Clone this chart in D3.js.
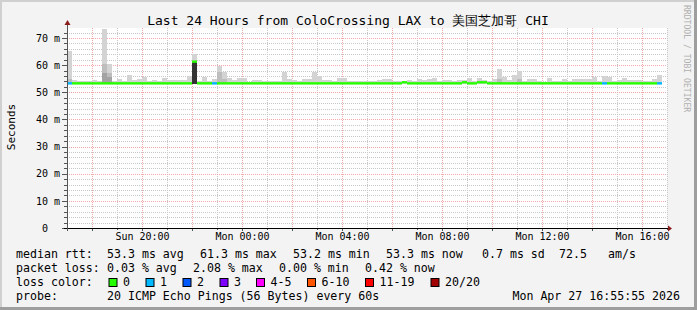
<!DOCTYPE html>
<html><head><meta charset="utf-8">
<script src="https://cdn.jsdelivr.net/npm/d3@7"></script>
<style>
body{margin:0;background:#f3f3f3}
svg{display:block}
text{font-family:"DejaVu Sans Mono",monospace;white-space:pre}
</style>
</head><body><svg id="c" width="697" height="310"></svg>
<script>
// ---------------- DATA ----------------
const title = "Last 24 Hours from ColoCrossing LAX to 美国芝加哥 CHI";
const startTime = new Date(2026, 3, 26, 17, 0, 0);
const endTime = new Date(2026, 3, 27, 17, 0, 0);
const stepMinutes = 12;
const yTicks = [0, 10, 20, 30, 40, 50, 60, 70];
const xLabelTimes = [new Date(2026,3,26,20), new Date(2026,3,27,0), new Date(2026,3,27,4),
                     new Date(2026,3,27,8), new Date(2026,3,27,12), new Date(2026,3,27,16)];
// smoke (ms): lowest ping and highest ping per step
const smokeLow = 53.0;
const smokeHigh = [
 65.3,54.6,54.2,54.2,54.2,54.6,54.2,73.4,60.5,54.2,
 55.0,54.2,56.4,54.6,55.0,55.7,54.2,54.6,54.2,55.3,
 54.6,54.6,54.6,54.6,56.0,64.1,54.2,55.7,54.2,55.0,
 59.8,57.6,55.3,54.6,55.3,55.3,53.8,54.6,54.6,54.2,
 54.2,54.2,54.2,57.6,55.0,54.6,54.2,55.0,55.0,57.6,
 56.0,54.6,54.6,54.2,55.3,55.3,54.2,54.2,54.2,54.2,
 54.2,54.2,54.6,55.0,55.0,54.2,54.2,54.2,54.6,54.2,
 55.0,54.6,55.0,55.3,54.2,54.6,54.6,54.2,54.6,54.6,
 55.3,54.2,55.3,54.6,54.2,55.0,58.7,55.7,54.6,56.4,
 58.0,54.2,55.0,55.0,54.2,53.8,55.3,54.2,54.2,55.0,
 54.2,55.0,55.0,55.0,55.0,55.7,54.2,56.0,55.7,54.2,
 54.6,55.3,54.6,54.6,54.6,54.2,54.2,55.0,56.4
];
// denser smoke layers (step index, top in ms)
const smokeMidIndex = [0, 7, 8, 30, 31, 86, 90];
const smokeMidTop   = [55.0, 60.5, 57.0, 57.5, 55.0, 55.0, 55.0];
const smokeDarkIndex = [7, 8];
const smokeDarkTop   = [57.0, 55.5];
const smokeDenseIndex = [25];
const smokeDenseTop   = [61.6];
// median rtt per step (ms)
const median = smokeHigh.map(() => 53.3);
const medianRaisedIndex = [67, 79, 82, 83, 25];
const medianRaisedValue = [53.7, 53.7, 53.7, 53.7, 61.3];
medianRaisedIndex.forEach((k, j) => median[k] = medianRaisedValue[j]);
// loss level per step (index into lossColors)
const loss = smokeHigh.map(() => 0);
const lossOneIndex = [0, 29, 107, 118];
lossOneIndex.forEach(k => loss[k] = 1);
const lossLabels = ["0", "1", "2", "3", "4-5", "6-10", "11-19", "20/20"];
const lossColors = ["#26ff00", "#00b8ff", "#0059ff", "#7e00ff", "#ff00ff", "#ff5500", "#ff0000", "#a00000"];
const medianStats = ["53.3 ms avg", "61.3 ms max", "53.2 ms min", "53.3 ms now", "0.7 ms sd", "72.5", "am/s"];
const lossStats = ["0.03 % avg", "2.08 % max", "0.00 % min", "0.42 % now"];
const probeText = "20 ICMP Echo Pings (56 Bytes) every 60s";
const stampText = "Mon Apr 27 16:55:55 2026";

// ---------------- DRAW ----------------
const W = 697, H = 310;
const svg = d3.select("#c");
const L = 67, R = 667, T = 28, B = 228;
const x = d3.scaleTime().domain([startTime, endTime]).range([L, R]);
const y = d3.scaleLinear().domain([0, 73.7]).range([B, T]);
const tAt = i => new Date(startTime.getTime() + i * stepMinutes * 60000);

// frame
svg.append("rect").attr("width", W).attr("height", H).attr("fill", "#f3f3f3");
svg.append("rect").attr("x", 0).attr("y", 0).attr("width", W).attr("height", 2).attr("fill", "#d0d0d0");
svg.append("rect").attr("x", 0).attr("y", 0).attr("width", 2).attr("height", H).attr("fill", "#d0d0d0");
svg.append("rect").attr("x", 0).attr("y", H - 3).attr("width", W).attr("height", 3).attr("fill", "#9e9e9e");
svg.append("rect").attr("x", W - 3).attr("y", 0).attr("width", 3).attr("height", H).attr("fill", "#9e9e9e");

// plot background
svg.append("rect").attr("x", L).attr("y", T).attr("width", R - L).attr("height", B - T).attr("fill", "#ffffff");

// grid
const g = svg.append("g");
const minorY = d3.range(2, 73, 2).filter(v => v % 10 !== 0);
g.selectAll(".hm").data(minorY).join("line")
  .attr("x1", L).attr("x2", R).attr("y1", d => Math.round(y(d)) + 0.5).attr("y2", d => Math.round(y(d)) + 0.5)
  .attr("stroke", "#c8c8c8").attr("stroke-dasharray", "1,1");
const hours = d3.timeHour.range(new Date(startTime.getTime() + 1), new Date(endTime.getTime() + 1));
g.selectAll(".vm").data(hours.filter(h => h.getHours() % 2 === 1)).join("line")
  .attr("x1", d => Math.round(x(d)) + 0.5).attr("x2", d => Math.round(x(d)) + 0.5)
  .attr("y1", T).attr("y2", B)
  .attr("stroke", "#c8c8c8").attr("stroke-dasharray", "1,1");
g.selectAll(".hM").data(yTicks.filter(v => v > 0)).join("line")
  .attr("x1", L).attr("x2", R).attr("y1", d => Math.round(y(d)) + 0.5).attr("y2", d => Math.round(y(d)) + 0.5)
  .attr("stroke", "#f5a8a8").attr("stroke-dasharray", "1,1");
g.selectAll(".vM").data(hours.filter(h => h.getHours() % 2 === 0)).join("line")
  .attr("x1", d => Math.round(x(d)) + 0.5).attr("x2", d => Math.round(x(d)) + 0.5)
  .attr("y1", T).attr("y2", B)
  .attr("stroke", "#f5a8a8").attr("stroke-dasharray", "1,1");

// smoke
const sm = svg.append("g").attr("shape-rendering", "crispEdges");
function layer(idx, tops, color) {
  sm.selectAll(null).data(idx.map((k, j) => ({k, top: tops[j]}))).join("rect")
    .attr("x", d => x(tAt(d.k))).attr("width", d => x(tAt(d.k + 1)) - x(tAt(d.k)))
    .attr("y", d => y(d.top)).attr("height", d => y(smokeLow) - y(d.top))
    .attr("fill", color);
}
layer(smokeHigh.map((_, i) => i), smokeHigh, "#d3d3d3");
layer(smokeMidIndex, smokeMidTop, "#bdbdbd");
layer(smokeDarkIndex, smokeDarkTop, "#a3a3a3");
layer(smokeDenseIndex, smokeDenseTop, "#333333");

// median line
svg.append("g").selectAll("line").data(median).join("line")
  .attr("x1", (d, i) => x(tAt(i))).attr("x2", (d, i) => x(tAt(i + 1)))
  .attr("y1", d => y(d)).attr("y2", d => y(d))
  .attr("stroke", (d, i) => lossColors[loss[i]]).attr("stroke-width", 2.4);

// ticks
const tk = svg.append("g").attr("stroke", "#555").attr("shape-rendering", "crispEdges");
tk.selectAll(".a").data(d3.range(0, 73, 2)).join("line")
  .attr("x1", d => d % 10 === 0 ? 62 : 64).attr("x2", L)
  .attr("y1", d => Math.round(y(d)) + 0.5).attr("y2", d => Math.round(y(d)) + 0.5);
tk.selectAll(".b").data(hours).join("line")
  .attr("x1", d => Math.round(x(d)) + 0.5).attr("x2", d => Math.round(x(d)) + 0.5)
  .attr("y1", B).attr("y2", d => d.getHours() % 2 === 0 ? B + 3 : B + 2);

// axes
const yAxis = d3.axisLeft(y).tickValues(yTicks).tickSize(0).tickPadding(7)
  .tickFormat(d => d === 0 ? "0  " : d + " m");
const ya = svg.append("g").attr("transform", `translate(${L},0)`).call(yAxis);
ya.select(".domain").remove();
ya.selectAll("text").attr("font-family", "DejaVu Sans Mono").attr("font-size", "10px").attr("fill", "#000");

const xAxis = d3.axisBottom(x).tickValues(xLabelTimes).tickSize(0).tickPadding(5)
  .tickFormat(d3.timeFormat("%a %H:%M"));
const xa = svg.append("g").attr("transform", `translate(0,${B})`).call(xAxis);
xa.select(".domain").remove();
xa.selectAll("text").attr("font-family", "DejaVu Sans Mono").attr("font-size", "10px").attr("fill", "#000");

// axis lines + arrows
svg.append("line").attr("x1", L - 3).attr("x2", R + 2).attr("y1", B + 0.5).attr("y2", B + 0.5).attr("stroke", "#000");
svg.append("line").attr("x1", L + 0.5).attr("x2", L + 0.5).attr("y1", B + 3).attr("y2", T - 4).attr("stroke", "#555");
svg.append("path").attr("d", `M${R + 1},${B - 2.5}L${R + 5},${B + 0.5}L${R + 1},${B + 3.5}Z`).attr("fill", "#8c1c1c");
svg.append("path").attr("d", `M${L - 2.5},${T - 3}L${L + 0.5},${T - 8}L${L + 3.5},${T - 3}Z`).attr("fill", "#8c1c1c");

// title & labels
svg.append("text").attr("x", 348).attr("y", 25).attr("text-anchor", "middle")
  .attr("font-size", "13px").text(title);
svg.append("text").attr("transform", "translate(14.5,127) rotate(-90)").attr("text-anchor", "middle")
  .attr("font-size", "11px").text("Seconds");
svg.append("text").attr("transform", "translate(684,5) rotate(90)").attr("text-anchor", "start")
  .attr("font-size", "8.1px").attr("fill", "#b0b0b0").text("RRDTOOL / TOBI OETIKER");

// legend
const lg = svg.append("g").attr("font-size", "11.6px").attr("fill", "#000");
const put = (s, xx, yy) => lg.append("text").attr("x", xx).attr("y", yy).text(s);
put("median rtt:", 16, 258);
[107, 200, 293, 386, 482, 559, 608].forEach((xx, j) => put(medianStats[j], xx, 258));
put("packet loss:", 16, 272);
[107, 193, 279, 365].forEach((xx, j) => put(lossStats[j], xx, 272));
put("loss color:", 16, 286);
const boxX = [108.5, 145.5, 182.5, 219.5, 256, 307, 365, 430.5];
lossLabels.forEach((s, j) => {
  lg.append("rect").attr("x", boxX[j] + 0.5).attr("y", 278.5).attr("width", 8).attr("height", 8)
    .attr("fill", lossColors[j]).attr("stroke", "#000");
  put(s, boxX[j] + 14.5, 286);
});
put("probe:", 16, 299.5);
put(probeText, 107, 299.5);
lg.append("text").attr("x", 680).attr("y", 299.5).attr("text-anchor", "end").text(stampText);
</script>
</body></html>
